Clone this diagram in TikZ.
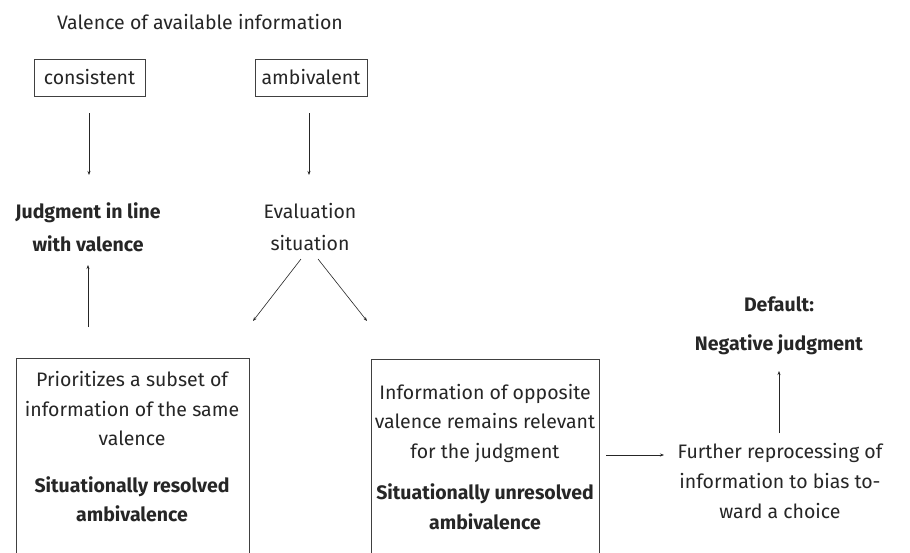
\documentclass[tikz,border=0pt]{standalone}
\usepackage{fontspec}
\setmainfont{Fira Sans}
\usetikzlibrary{arrows.meta}
\begin{document}
\begin{tikzpicture}[x=1pt,y=-1pt,
  txt/.style={font=\fontsize{19.5}{29.5}\selectfont, align=center, inner sep=0pt, text=black!85},
  vbox/.style={draw=black!75, line width=0.7pt, inner sep=5pt, font=\fontsize{19.5}{22}\selectfont, text=black!85},
  bigbox/.style={draw=black!75, line width=0.7pt},
  arr/.style={draw=black!85, line width=0.6pt, -{Stealth[length=4pt,width=3pt]}}]
\clip (0,0) rectangle (910,552);
\fill[white] (0,0) rectangle (910,552);

\node[txt] (title) at (200,22) {Valence of available information};
\node[vbox, minimum width=111pt, minimum height=37pt] (cons) at (89.5,77.5) {consistent};
\node[vbox, minimum width=112pt, minimum height=37pt] (ambi) at (311,77.5) {ambivalent};

\node[txt, font=\bfseries\fontsize{19.5}{33}\selectfont] (judg) at (88,227) {Judgment in line\\with valence};
\node[txt, font=\fontsize{19.5}{32}\selectfont] (eval) at (310,227) {Evaluation\\situation};

\draw[bigbox] (16,358) rectangle (249,600);
\node[txt] (ltext) at (132,447) {Prioritizes a subset of\\information of the same\\valence\\[17pt]\textbf{Situationally resolved}\\\textbf{ambivalence}};

\draw[bigbox] (371,359) rectangle (599,600);
\node[txt] (rtext) at (485,457) {Information of opposite\\valence remains relevant\\for the judgment\\[12pt]\textbf{Situationally unresolved}\\\textbf{ambivalence}};

\node[txt, font=\fontsize{19.5}{30}\selectfont] (further) at (780,481) {Further reprocessing of\\information to bias to-\\ward a choice};
\node[txt, font=\bfseries\fontsize{19.5}{39}\selectfont] (default) at (779,326) {Default:\\Negative judgment};

\coordinate (c1) at (89,113);
\coordinate (c2) at (89,175);
\coordinate (a1) at (309,113);
\coordinate (a2) at (309,175);
\coordinate (u1) at (88,327);
\coordinate (u2) at (88,265);
\coordinate (d0) at (301,259);
\coordinate (dL) at (253,321);
\coordinate (e0) at (318,259);
\coordinate (eR) at (367,321);
\coordinate (h1) at (606,455);
\coordinate (h2) at (664,455);
\coordinate (v1) at (779,433);
\coordinate (v2) at (779,371);

\draw[arr] (c1) -- (c2);
\draw[arr] (a1) -- (a2);
\draw[arr] (u1) -- (u2);
\draw[arr] (d0) -- (dL);
\draw[arr] (e0) -- (eR);
\draw[arr] (h1) -- (h2);
\draw[arr] (v1) -- (v2);
\end{tikzpicture}
\end{document}
